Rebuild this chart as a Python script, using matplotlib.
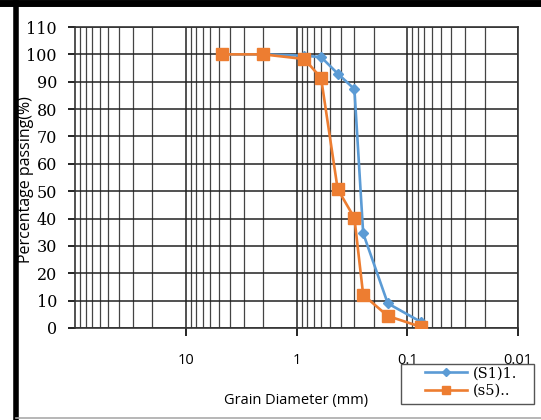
import matplotlib.pyplot as plt
from matplotlib.lines import Line2D
from matplotlib.patches import Rectangle
from matplotlib.ticker import LogLocator, NullFormatter

# sieve sizes (mm) and percent passing
size_s1 = [4.75, 2.0, 0.85, 0.6, 0.425, 0.3, 0.25, 0.15, 0.075]
pass_s1 = [100, 100, 99.5, 99, 93, 87.3, 34.6, 9, 2.2]

size_s5 = [4.75, 2.0, 0.85, 0.6, 0.425, 0.3, 0.25, 0.15, 0.075]
pass_s5 = [100, 100, 98.3, 91.4, 50.8, 40.2, 12.1, 4.4, 0.4]

xticks = [10, 1, 0.1, 0.01]
xtick_labels = ["10", "1", "0.1", "0.01"]
yticks = list(range(0, 111, 10))

blue = "#5B9BD5"
orange = "#ED7D31"

W, H = 541, 420
fig = plt.figure(figsize=(W / 100, H / 100), dpi=100)
ax = fig.add_axes([75 / W, 1 - 328 / H, 443 / W, 301 / H])

ax.plot(size_s1, pass_s1, color=blue, lw=1.9, marker="D", ms=5.5, label="(S1)1.", zorder=3)
ax.plot(size_s5, pass_s5, color=orange, lw=1.9, marker="s", ms=8, label="(s5)..", zorder=4)

ax.set_xscale("log")
ax.set_xlim(100, 0.01)
ax.set_ylim(0, 110)
ax.set_xticks(xticks)
ax.set_xticklabels(xtick_labels, fontfamily="Open Sans", fontsize=10.5)
ax.xaxis.set_minor_locator(LogLocator(base=10, subs=range(2, 10)))
ax.xaxis.set_minor_formatter(NullFormatter())
ax.set_yticks(yticks)
ax.set_yticklabels([str(v) for v in yticks], fontfamily="DejaVu Serif", fontsize=11.5)

ax.tick_params(axis="x", which="major", direction="out", length=6, width=1.2, pad=12)
ax.tick_params(axis="x", which="minor", length=0)
ax.tick_params(axis="y", direction="out", length=5, width=1.2, pad=8)

ax.grid(True, which="major", axis="both", color="#222222", lw=1.1)
ax.grid(True, which="minor", axis="x", color="#444444", lw=0.9)
ax.set_axisbelow(True)
for s in ax.spines.values():
    s.set_color("#333333")
    s.set_linewidth(1.2)

ax.set_xlabel("Grain Diameter (mm)", fontfamily="Open Sans", fontsize=10.5, labelpad=18)
fig.text(26 / W, 1 - 180 / H, "Percentage passing(%)", rotation=90, ha="center", va="center",
         fontfamily="Open Sans", fontsize=11.5)

# legend box sits below the plot, partly outside the axes
fig.add_artist(Rectangle((401 / W, 1 - 404 / H), 133 / W, 40 / H, transform=fig.transFigure,
                         facecolor="white", edgecolor="#555555", lw=1.0))
leg = fig.legend(loc="upper left", bbox_to_anchor=(423 / W, 1 - 364 / H), frameon=False,
                 handlelength=2.9, borderpad=0.15, borderaxespad=0, labelspacing=0.25,
                 handletextpad=0.35, markerscale=0.8,
                 prop={"family": "DejaVu Serif", "size": 10.5})

# page frame around the figure
fig.add_artist(Line2D([0, 1], [0.9925, 0.9925], color="black", lw=5, transform=fig.transFigure))
fig.add_artist(Line2D([0.029, 0.029], [0, 1], color="black", lw=4, transform=fig.transFigure))
fig.add_artist(Line2D([0.03, 1], [0.005, 0.005], color="#aaaaaa", lw=1.2, transform=fig.transFigure))

plt.savefig("out.png", dpi=100)
plt.close()
